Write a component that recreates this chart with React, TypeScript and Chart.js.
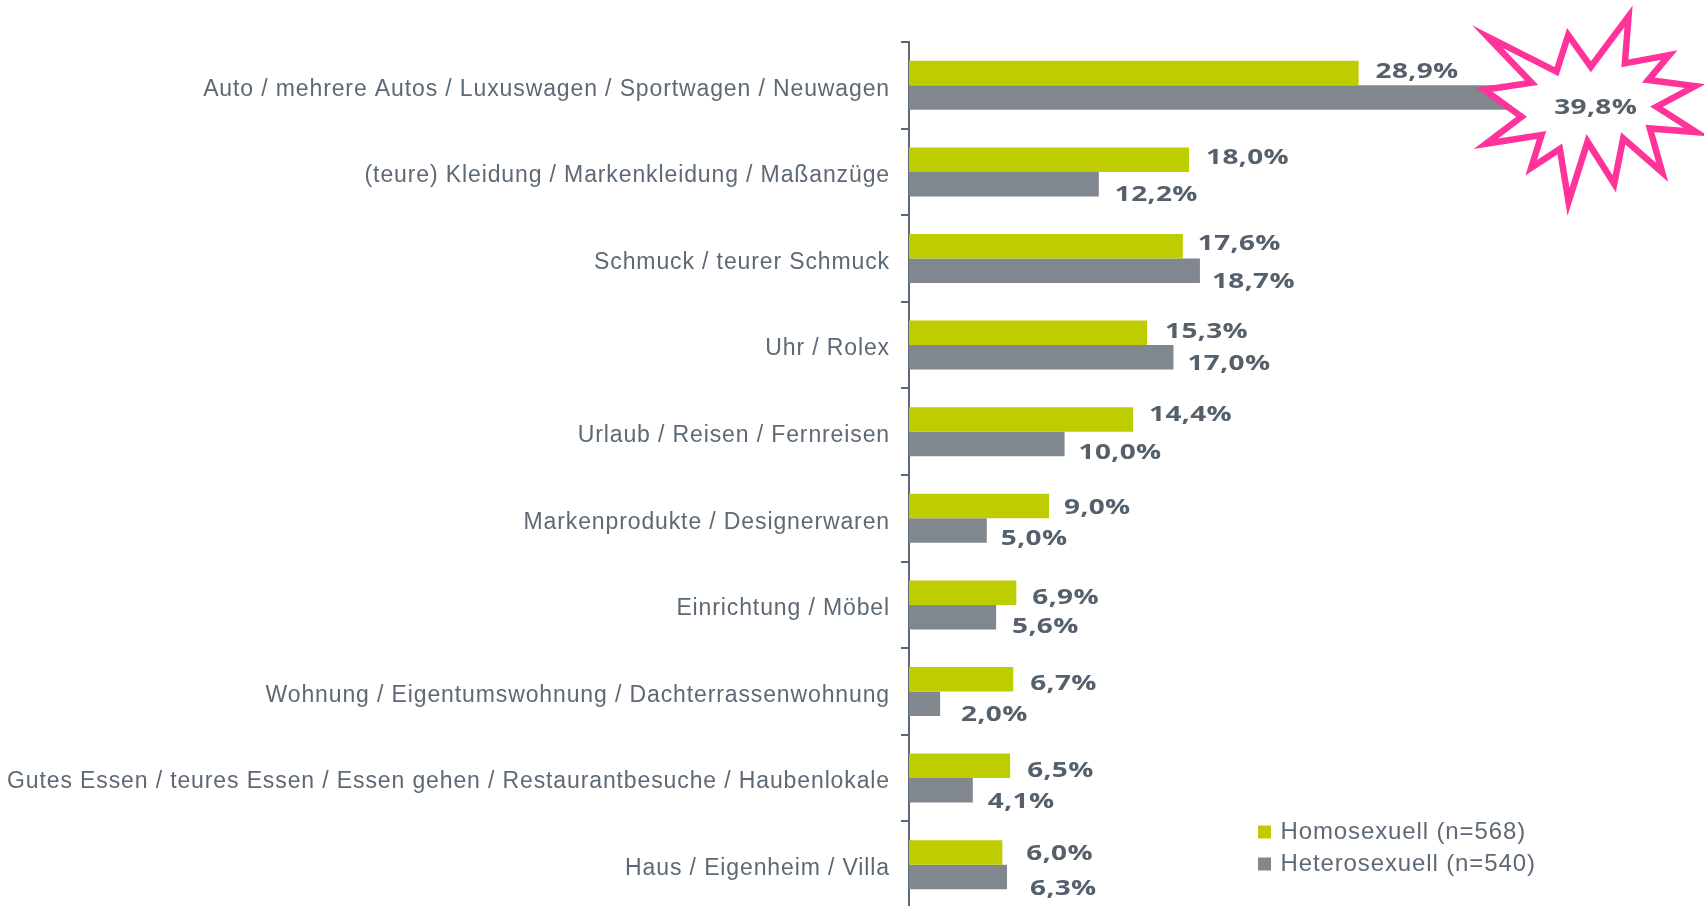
import React, { useEffect, useRef } from "react";
import { Chart, registerables } from "chart.js";

Chart.register(...registerables);

const categories = [
  "Auto / mehrere Autos / Luxuswagen / Sportwagen / Neuwagen",
  "(teure) Kleidung / Markenkleidung / Maßanzüge",
  "Schmuck / teurer Schmuck",
  "Uhr / Rolex",
  "Urlaub / Reisen / Fernreisen",
  "Markenprodukte / Designerwaren",
  "Einrichtung / Möbel",
  "Wohnung / Eigentumswohnung / Dachterrassenwohnung",
  "Gutes Essen / teures Essen / Essen gehen / Restaurantbesuche / Haubenlokale",
  "Haus / Eigenheim / Villa",
];
const homosexuell = [28.9, 18.0, 17.6, 15.3, 14.4, 9.0, 6.9, 6.7, 6.5, 6.0];
const heterosexuell = [39.8, 12.2, 18.7, 17.0, 10.0, 5.0, 5.6, 2.0, 4.1, 6.3];
const seriesNames = ["Homosexuell (n=568)", "Heterosexuell (n=540)"];

// label nudges relative to each bar end
const homoGap = [17, 17, 15, 18, 16, 15, 16, 17, 17, 24];
const heteroGap = [26, 16, 12, 14, 14, 14, 16, 21, 15, 23];
const homoRise = [-1.5, -2, -2, -1, -4, 2, 5.5, 5, 5, 2];
const heteroRise = [10, 11, 11, 7, 9, 8, 10, 11, 12, 12];

// starburst outline, 3x px around the top grey bar end
const starPoints = [
  [506, 49], [495, 190], [628, 165], [565, 240], [706, 258], [590, 320],
  [709, 396], [570, 385], [607, 517], [490, 415], [463, 551], [383, 425],
  [326, 605], [300, 447], [214, 503], [245, 405], [78, 431], [185, 350],
  [73, 269], [215, 248], [83, 110], [290, 215], [325, 105], [393, 200],
];

const GREEN = "#bdcd00";
const GREY = "#80878f";
const TEXT = "#5d6975";
const VALUE = "#55606d";
const PINK = "#ff3399";
const fmt = (v: number) => v.toFixed(1).replace(".", ",") + "%";

const textStyle = {
  id: "textStyle",
  beforeDraw(chart: any) {
    chart.ctx.letterSpacing = "0.88px";
  },
  beforeUpdate(chart: any) {
    chart.ctx.letterSpacing = "0.88px";
  },
};

const placeLegend = {
  id: "placeLegend",
  afterLayout(chart: any) {
    const l = chart.legend;
    l.left = 1252.5;
    l.top = 812;
    l.right = 1560;
    l.bottom = 890;
  },
};

const valueLabels = {
  id: "valueLabels",
  afterDatasetsDraw(chart: any) {
    const ctx = chart.ctx;
    const m0 = chart.getDatasetMeta(0).data;
    const m1 = chart.getDatasetMeta(1).data;
    ctx.save();
    const ox = m1[0].x - 205 / 3;
    const oy = m1[0].y - 97.5;
    ctx.beginPath();
    starPoints.forEach(([x, y], i) => {
      const px = ox + x / 3;
      const py = oy + y / 3;
      if (i === 0) ctx.moveTo(px, py);
      else ctx.lineTo(px, py);
    });
    ctx.closePath();
    ctx.fillStyle = "#ffffff";
    ctx.fill();
    ctx.lineJoin = "miter";
    ctx.miterLimit = 30;
    ctx.lineWidth = 6.5;
    ctx.strokeStyle = PINK;
    ctx.stroke();

    ctx.font = "700 21px 'Open Sans'";
    ctx.letterSpacing = "0.3px";
    ctx.fillStyle = VALUE;
    ctx.textBaseline = "middle";
    ctx.textAlign = "left";
    const put = (txt: string, x: number, y: number) => {
      ctx.save();
      ctx.translate(x, y);
      ctx.scale(1.33, 1);
      ctx.fillText(txt, 0, 0);
      ctx.restore();
    };
    homosexuell.forEach((v, i) => put(fmt(v), m0[i].x + homoGap[i], m0[i].y + homoRise[i]));
    heterosexuell.forEach((v, i) => put(fmt(v), m1[i].x + heteroGap[i], m1[i].y + heteroRise[i]));
    ctx.restore();
  },
};

export default function App() {
  const ref = useRef<HTMLCanvasElement>(null);
  useEffect(() => {
    document.body.style.overflow = "hidden";
    const chart = new Chart(ref.current as HTMLCanvasElement, {
      type: "bar",
      data: {
        labels: categories,
        datasets: [
          { label: seriesNames[0], data: homosexuell, backgroundColor: GREEN, barPercentage: 1, categoryPercentage: 0.566 },
          { label: seriesNames[1], data: heterosexuell, backgroundColor: GREY, barPercentage: 1, categoryPercentage: 0.566 },
        ],
      },
      options: {
        indexAxis: "y",
        animation: false,
        responsive: false,
        layout: { padding: { top: 42, left: 0, right: 0, bottom: 0 } },
        scales: {
          x: { display: false, min: 0, max: 51.1 },
          y: {
            afterFit(axis: any) {
              axis.width = 909;
              axis.paddingTop = 0;
              axis.paddingBottom = 0;
            },
            border: { display: true, color: TEXT, width: 2 },
            grid: { drawOnChartArea: false, drawTicks: true, tickLength: 8, color: TEXT, lineWidth: 2, offset: true },
            ticks: {
              color: TEXT,
              padding: 11,
              labelOffset: 4,
              autoSkip: false,
              font: { family: "'Liberation Sans'", size: 23 },
            },
          },
        },
        plugins: {
          tooltip: { enabled: false },
          legend: {
            position: "chartArea",
            align: "start",
            labels: {
              boxWidth: 8,
              boxHeight: 8,
              padding: 8,
              color: TEXT,
              font: { family: "'Liberation Sans'", size: 24 },
              generateLabels(chart: any) {
                return Chart.defaults.plugins.legend.labels
                  .generateLabels(chart)
                  .map((item: any) => ({ ...item, lineWidth: 5, strokeStyle: item.fillStyle }));
              },
            },
          },
        },
      } as any,
      plugins: [textStyle, placeLegend, valueLabels],
    });
    return () => chart.destroy();
  }, []);
  return (
    <canvas
      ref={ref}
      width={1704}
      height={908}
      style={{ position: "fixed", left: 0, top: 0, width: 1704, height: 908 }}
    />
  );
}
